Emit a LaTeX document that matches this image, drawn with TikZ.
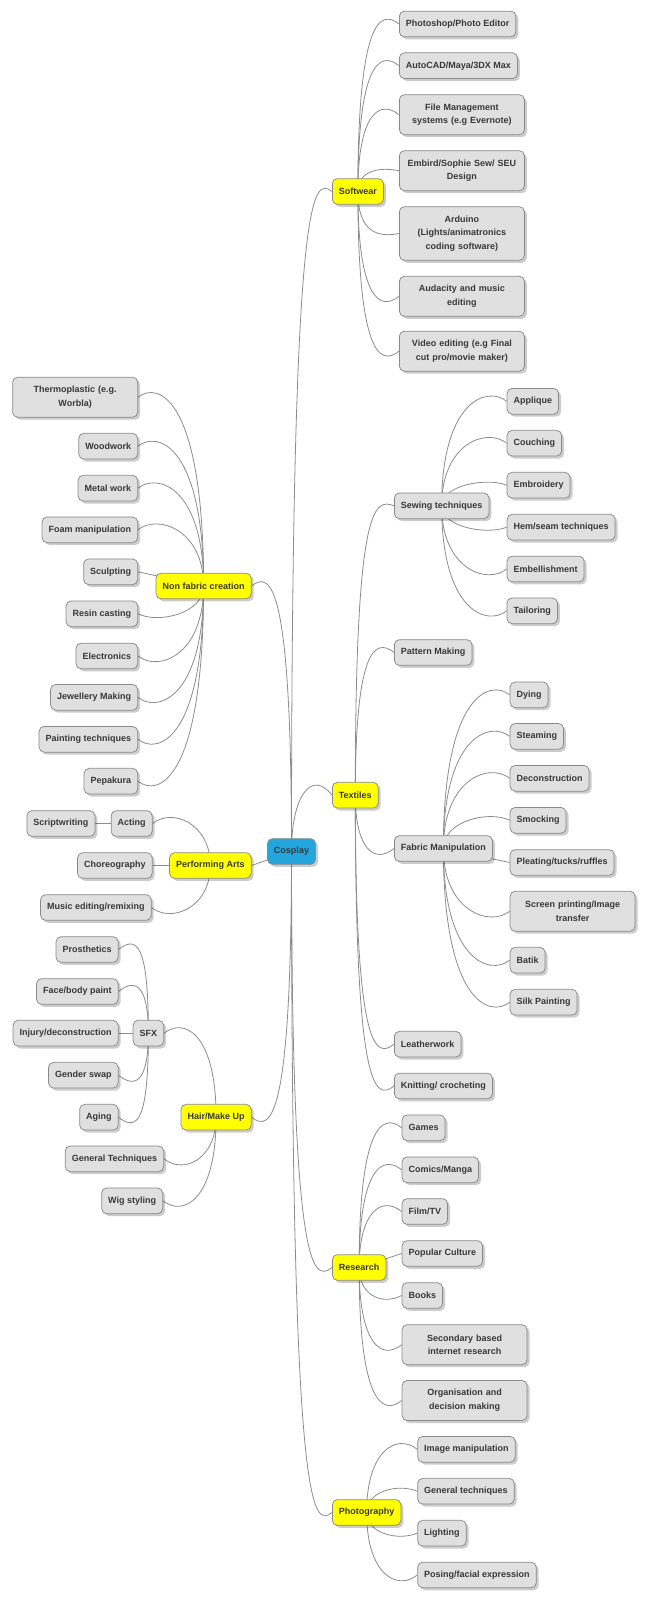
\documentclass[tikz,border=0pt]{standalone}
\usepackage{fontspec}
\setmainfont{Liberation Sans}
\usetikzlibrary{calc,shadows}
\pgfdeclarelayer{background}
\pgfsetlayers{background,main}

\definecolor{boxfill}{HTML}{E0E0E0}
\definecolor{boxline}{HTML}{8A8A8A}
\definecolor{topicfill}{HTML}{FFFF00}
\definecolor{rootfill}{HTML}{23A5DE}
\definecolor{inkgray}{HTML}{383838}
\definecolor{linkgray}{HTML}{8C8C8C}

\tikzset{every picture/.style={line width=0.75pt}}
\tikzset{
  leaf/.style={draw=boxline, fill=boxfill, rounded corners=5pt, inner xsep=6.5pt, inner ysep=0pt,
    minimum height=25.7pt, text=inkgray, font=\bfseries\fontsize{9}{13.7}\selectfont,
    drop shadow={shadow xshift=2.5pt, shadow yshift=-2.5pt, opacity=0.2, fill=black}},
  topic/.style={leaf, fill=topicfill},
  root/.style={leaf, fill=rootfill},
  wrap/.style={leaf, text width=112pt, align=center, minimum height=40pt},
  link/.style={draw=linkgray, line width=0.8pt},
  rup/.style={to path={.. controls (\tikztostart |- \tikztotarget) and ($(\tikztotarget)+(-20,-#1)$) .. (\tikztotarget)}},
  rup/.default=16,
  rdown/.style={to path={.. controls (\tikztostart |- \tikztotarget) and ($(\tikztotarget)+(-20,#1)$) .. (\tikztotarget)}},
  rdown/.default=16,
  lup/.style={to path={.. controls (\tikztostart |- \tikztotarget) and ($(\tikztotarget)+(20,-#1)$) .. (\tikztotarget)}},
  lup/.default=16,
  ldown/.style={to path={.. controls (\tikztostart |- \tikztotarget) and ($(\tikztotarget)+(20,#1)$) .. (\tikztotarget)}},
  ldown/.default=16,
}

\begin{document}
\begin{tikzpicture}[x=1pt,y=1pt,yscale=-1]
\useasboundingbox (0,0) rectangle (647,1600);

% Root
\node[root] (cosplay) at (291.5,851.5) {Cosplay};

% Softwear
\node[topic, anchor=west] (soft) at (332,191.5) {Softwear};
\node[leaf, anchor=west] (photoed) at (399,24) {Photoshop/Photo Editor};
\node[leaf, anchor=west] (autocad) at (399,65.7) {AutoCAD/Maya/3DX Max};
\node[wrap, anchor=west] (filemgmt) at (399,114.7) {File Management\\systems (e.g Evernote)};
\node[wrap, anchor=west] (embird) at (399,170.7) {Embird/Sophie Sew/ SEU\\Design};
\node[wrap, anchor=west, minimum height=53.6pt] (arduino) at (399,233.5) {Arduino\\(Lights/animatronics\\coding software)};
\node[wrap, anchor=west] (audacity) at (399,296.3) {Audacity and music\\editing};
\node[wrap, anchor=west] (videoed) at (399,351.2) {Video editing (e.g Final\\cut pro/movie maker)};

% Textiles
\node[topic, anchor=west] (textiles) at (332,795.2) {Textiles};
\node[leaf, anchor=west] (sewing) at (394,505.8) {Sewing techniques};
\node[leaf, anchor=west] (applique) at (506.7,401.3) {Applique};
\node[leaf, anchor=west] (couching) at (506.7,443.2) {Couching};
\node[leaf, anchor=west] (embroid) at (506.7,485.2) {Embroidery};
\node[leaf, anchor=west] (hemseam) at (506.7,527.2) {Hem/seam techniques};
\node[leaf, anchor=west] (embell) at (506.7,569) {Embellishment};
\node[leaf, anchor=west] (tailor) at (506.7,610.8) {Tailoring};
\node[leaf, anchor=west] (pattern) at (394,652.5) {Pattern Making};
\node[leaf, anchor=west] (fabric) at (394,848.5) {Fabric Manipulation};
\node[leaf, anchor=west] (dying) at (509.7,694.8) {Dying};
\node[leaf, anchor=west] (steam) at (509.7,736.4) {Steaming};
\node[leaf, anchor=west] (decon) at (509.7,778.3) {Deconstruction};
\node[leaf, anchor=west] (smock) at (509.7,820.3) {Smocking};
\node[leaf, anchor=west] (pleat) at (509.7,862.5) {Pleating/tucks/ruffles};
\node[wrap, anchor=west] (screen) at (509.7,911.2) {Screen printing/Image\\transfer};
\node[leaf, anchor=west] (batik) at (509.7,960.2) {Batik};
\node[leaf, anchor=west] (silk) at (509.7,1002.2) {Silk Painting};
\node[leaf, anchor=west] (leather) at (394,1044.2) {Leatherwork};
\node[leaf, anchor=west] (knit) at (394,1086) {Knitting/ crocheting};

% Research
\node[topic, anchor=west] (research) at (332,1267.5) {Research};
\node[leaf, anchor=west] (games) at (401.7,1127.8) {Games};
\node[leaf, anchor=west] (comics) at (401.7,1169.8) {Comics/Manga};
\node[leaf, anchor=west] (filmtv) at (401.7,1211.5) {Film/TV};
\node[leaf, anchor=west] (popcult) at (401.7,1253.5) {Popular Culture};
\node[leaf, anchor=west] (books) at (401.7,1295.5) {Books};
\node[wrap, anchor=west] (secondary) at (401.7,1344.7) {Secondary based\\internet research};
\node[wrap, anchor=west] (organise) at (401.7,1400.5) {Organisation and\\decision making};

% Photography
\node[topic, anchor=west] (photog) at (332,1512.5) {Photography};
\node[leaf, anchor=west] (imgmanip) at (417.3,1449.3) {Image manipulation};
\node[leaf, anchor=west] (gentech) at (417.3,1491.2) {General techniques};
\node[leaf, anchor=west] (lighting) at (417.3,1533.2) {Lighting};
\node[leaf, anchor=west] (posing) at (417.3,1575) {Posing/facial expression};

% Non fabric creation
\node[topic, anchor=east] (nonfab) at (251.5,586) {Non fabric creation};
\node[wrap, anchor=east] (thermo) at (138,397.2) {Thermoplastic (e.g.\\Worbla)};
\node[leaf, anchor=east] (wood) at (138,446.2) {Woodwork};
\node[leaf, anchor=east] (metal) at (138,488.2) {Metal work};
\node[leaf, anchor=east] (foam) at (138,529.8) {Foam manipulation};
\node[leaf, anchor=east] (sculpt) at (138,571.8) {Sculpting};
\node[leaf, anchor=east] (resin) at (138,613.8) {Resin casting};
\node[leaf, anchor=east] (electro) at (138,656) {Electronics};
\node[leaf, anchor=east] (jewel) at (138,697.3) {Jewellery Making};
\node[leaf, anchor=east] (painting) at (138,739.3) {Painting techniques};
\node[leaf, anchor=east] (pepakura) at (138,781.2) {Pepakura};

% Performing Arts
\node[topic, anchor=east] (perform) at (251.5,865.5) {Performing Arts};
\node[leaf, anchor=east] (acting) at (152.5,823.5) {Acting};
\node[leaf, anchor=east] (script) at (95.3,823.5) {Scriptwriting};
\node[leaf, anchor=east] (choreo) at (152.5,865.5) {Choreography};
\node[leaf, anchor=east] (music) at (151.5,907.5) {Music editing/remixing};

% Hair/Make Up
\node[topic, anchor=east] (hair) at (251.5,1117.2) {Hair/Make Up};
\node[leaf, anchor=east] (sfx) at (164,1033.2) {SFX};
\node[leaf, anchor=east] (prosth) at (118.5,949.5) {Prosthetics};
\node[leaf, anchor=east] (facepaint) at (118.5,991.5) {Face/body paint};
\node[leaf, anchor=east] (injury) at (118.5,1033.2) {Injury/deconstruction};
\node[leaf, anchor=east] (gender) at (118.5,1075.2) {Gender swap};
\node[leaf, anchor=east] (aging) at (118.5,1117.2) {Aging};
\node[leaf, anchor=east] (gentechs) at (164,1158.8) {General Techniques};
\node[leaf, anchor=east] (wig) at (163,1200.8) {Wig styling};

% Connectors
\begin{pgfonlayer}{background}
\draw[link] (cosplay.center) to[rup] (soft.west);
\draw[link] (cosplay.center) to[rup=26] (textiles.west);
\draw[link] (cosplay.center) to[rdown] (research.west);
\draw[link] (cosplay.center) to[rdown] (photog.west);
\draw[link] (cosplay.center) to[lup] (nonfab.east);
\draw[link] (cosplay.center) -- (perform.east);
\draw[link] (cosplay.center) to[ldown] (hair.east);

\draw[link] (soft.center) to[rup] (photoed.west);
\draw[link] (soft.center) to[rup] (autocad.west);
\draw[link] (soft.center) to[rup] (filemgmt.west);
\draw[link] (soft.center) to[rup=4] (embird.west);
\draw[link] (soft.center) to[rdown=4] (arduino.west);
\draw[link] (soft.center) to[rdown] (audacity.west);
\draw[link] (soft.center) to[rdown] (videoed.west);

\draw[link] (textiles.center) to[rup=8] (sewing.west);
\draw[link] (textiles.center) to[rup] (pattern.west);
\draw[link] (textiles.center) to[rdown] (fabric.west);
\draw[link] (textiles.center) to[rdown] (leather.west);
\draw[link] (textiles.center) to[rdown] (knit.west);

\draw[link] (sewing.center) to[rup] (applique.west);
\draw[link] (sewing.center) to[rup] (couching.west);
\draw[link] (sewing.center) to[rup=8] (embroid.west);
\draw[link] (sewing.center) to[rdown=8] (hemseam.west);
\draw[link] (sewing.center) to[rdown] (embell.west);
\draw[link] (sewing.center) to[rdown] (tailor.west);

\draw[link] (fabric.center) to[rup] (dying.west);
\draw[link] (fabric.center) to[rup] (steam.west);
\draw[link] (fabric.center) to[rup] (decon.west);
\draw[link] (fabric.center) to[rup=10] (smock.west);
\draw[link] (fabric.center) -- (pleat.west);
\draw[link] (fabric.center) to[rdown] (screen.west);
\draw[link] (fabric.center) to[rdown] (batik.west);
\draw[link] (fabric.center) to[rdown] (silk.west);

\draw[link] (research.center) to[rup] (games.west);
\draw[link] (research.center) to[rup] (comics.west);
\draw[link] (research.center) to[rup] (filmtv.west);
\draw[link] (research.center) -- (popcult.west);
\draw[link] (research.center) to[rdown=10] (books.west);
\draw[link] (research.center) to[rdown] (secondary.west);
\draw[link] (research.center) to[rdown] (organise.west);

\draw[link] (photog.center) to[rup] (imgmanip.west);
\draw[link] (photog.center) to[rup=8] (gentech.west);
\draw[link] (photog.center) to[rdown=8] (lighting.west);
\draw[link] (photog.center) to[rdown] (posing.west);

\draw[link] (nonfab.center) to[lup] (thermo.east);
\draw[link] (nonfab.center) to[lup] (wood.east);
\draw[link] (nonfab.center) to[lup] (metal.east);
\draw[link] (nonfab.center) to[lup] (foam.east);
\draw[link] (nonfab.center) -- (sculpt.east);
\draw[link] (nonfab.center) to[ldown=10] (resin.east);
\draw[link] (nonfab.center) to[ldown] (electro.east);
\draw[link] (nonfab.center) to[ldown] (jewel.east);
\draw[link] (nonfab.center) to[ldown] (painting.east);
\draw[link] (nonfab.center) to[ldown] (pepakura.east);

\draw[link] (perform.center) to[lup] (acting.east);
\draw[link] (acting) -- (script);
\draw[link] (perform) -- (choreo);
\draw[link] (perform.center) to[ldown] (music.east);

\draw[link] (hair.center) to[lup] (sfx.east);
\draw[link] (hair.center) to[ldown] (gentechs.east);
\draw[link] (hair.center) to[ldown] (wig.east);

\draw[link] (sfx.center) to[lup] (prosth.east);
\draw[link] (sfx.center) to[lup] (facepaint.east);
\draw[link] (sfx) -- (injury);
\draw[link] (sfx.center) to[ldown] (gender.east);
\draw[link] (sfx.center) to[ldown] (aging.east);
\end{pgfonlayer}

\end{tikzpicture}
\end{document}
